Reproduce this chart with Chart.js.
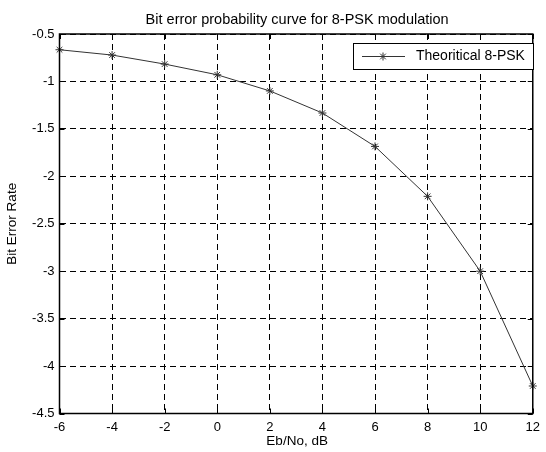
<!DOCTYPE html>
<html>
<head>
<meta charset="utf-8">
<script src="https://cdn.jsdelivr.net/npm/chart.js@4.4.1/dist/chart.umd.min.js"></script>
<style>
html,body{margin:0;padding:0;background:#fff;}
canvas{display:block;}
</style>
</head>
<body>
<canvas id="c" width="546" height="452"></canvas>
<script>
// ---- data ----
const ebNo = [-6, -4, -2, 0, 2, 4, 6, 8, 10, 12];
const ber = [-0.666, -0.722, -0.817, -0.93, -1.10, -1.333, -1.685, -2.211, -3.0, -4.21];
const xTickValues = [-6, -4, -2, 0, 2, 4, 6, 8, 10, 12];
const yTickValues = [-4.5, -4, -3.5, -3, -2.5, -2, -1.5, -1, -0.5];
const seriesName = 'Theoritical 8-PSK';
const titleText = 'Bit error probability curve for 8-PSK modulation';
const xLabel = 'Eb/No, dB';
const yLabel = 'Bit Error Rate';

const FONT = '"Liberation Sans", Arial, Helvetica, sans-serif';
const LINE = '#333';

const decor = {
  id: 'decor',
  afterDatasetsDraw(chart) {
    const {ctx, chartArea: a, scales} = chart;
    ctx.save();
    // inward tick marks on all four sides
    ctx.strokeStyle = '#000';
    ctx.lineWidth = 1;
    ctx.beginPath();
    const tl = 5;
    xTickValues.forEach(v => {
      const x = Math.round(scales.x.getPixelForValue(v)) + 0.5;
      ctx.moveTo(x, a.bottom); ctx.lineTo(x, a.bottom - tl);
      ctx.moveTo(x, a.top); ctx.lineTo(x, a.top + tl);
    });
    yTickValues.forEach(v => {
      const y = Math.round(scales.y.getPixelForValue(v)) + 0.5;
      ctx.moveTo(a.left, y); ctx.lineTo(a.left + tl, y);
      ctx.moveTo(a.right, y); ctx.lineTo(a.right - tl, y);
    });
    ctx.stroke();
    // axes box
    ctx.lineWidth = 1.5;
    ctx.strokeRect(a.left, a.top, a.right - a.left, a.bottom - a.top);

    // legend box
    const lx = 353, ly = 43, lw = 180, lh = 26;
    ctx.fillStyle = '#fff';
    ctx.fillRect(lx, ly, lw, lh);
    ctx.lineWidth = 1;
    ctx.strokeStyle = '#000';
    ctx.strokeRect(lx + 0.5, ly + 0.5, lw, lh);
    const cy = ly + lh / 2 + 0.5;
    ctx.strokeStyle = LINE;
    ctx.beginPath();
    ctx.moveTo(lx + 9, cy); ctx.lineTo(lx + 52, cy);
    ctx.stroke();
    Chart.helpers.drawPoint(ctx, {pointStyle: 'star', radius: 4, borderWidth: 1, rotation: 0}, lx + 30, cy);
    ctx.fillStyle = '#000';
    ctx.font = '14px ' + FONT;
    ctx.textBaseline = 'middle';
    ctx.textAlign = 'left';
    ctx.fillText(seriesName, lx + 63, cy);
    ctx.restore();
  },
  afterDraw(chart) {
    const {ctx, chartArea: a} = chart;
    ctx.save();
    ctx.fillStyle = '#000';
    ctx.textAlign = 'center';
    ctx.textBaseline = 'middle';
    ctx.font = '14.5px ' + FONT;
    ctx.fillText(titleText, (a.left + a.right) / 2 + 1, 20);
    ctx.font = '13.5px ' + FONT;
    ctx.fillText(xLabel, (a.left + a.right) / 2 + 1, 441);
    ctx.translate(12, (a.top + a.bottom) / 2);
    ctx.rotate(-Math.PI / 2);
    ctx.fillText(yLabel, 0, 0);
    ctx.restore();
  }
};

new Chart(document.getElementById('c'), {
  type: 'line',
  data: {
    datasets: [{
      label: seriesName,
      data: ebNo.map((x, i) => ({x: x, y: ber[i]})),
      borderColor: LINE,
      borderWidth: 1,
      pointStyle: 'star',
      pointRadius: 4,
      pointBorderColor: LINE,
      pointBorderWidth: 1,
      pointBackgroundColor: LINE,
      tension: 0,
      fill: false,
      clip: false
    }]
  },
  options: {
    responsive: false,
    animation: false,
    devicePixelRatio: 1,
    layout: {padding: {top: 34, right: 6, left: 0, bottom: 0}},
    plugins: {legend: {display: false}, title: {display: false}, tooltip: {enabled: false}},
    scales: {
      x: {
        type: 'linear',
        min: -6, max: 12,
        afterBuildTicks: s => { s.ticks = xTickValues.map(v => ({value: v})); },
        afterFit: s => { s.height = 38.5; },
        grid: {color: '#000', lineWidth: 1, drawTicks: false},
        border: {display: true, color: '#000', width: 1, dash: [6, 4]},
        ticks: {color: '#000', font: {family: FONT, size: 13}, padding: 6, maxRotation: 0, callback: v => String(v)}
      },
      y: {
        type: 'linear',
        min: -4.5, max: -0.5,
        afterBuildTicks: s => { s.ticks = yTickValues.map(v => ({value: v})); },
        afterFit: s => { s.width = 59.5; },
        grid: {color: '#000', lineWidth: 1, drawTicks: false},
        border: {display: true, color: '#000', width: 1, dash: [6, 4]},
        ticks: {color: '#000', font: {family: FONT, size: 13}, padding: 5, callback: v => String(v)}
      }
    }
  },
  plugins: [decor]
});
</script>
</body>
</html>
